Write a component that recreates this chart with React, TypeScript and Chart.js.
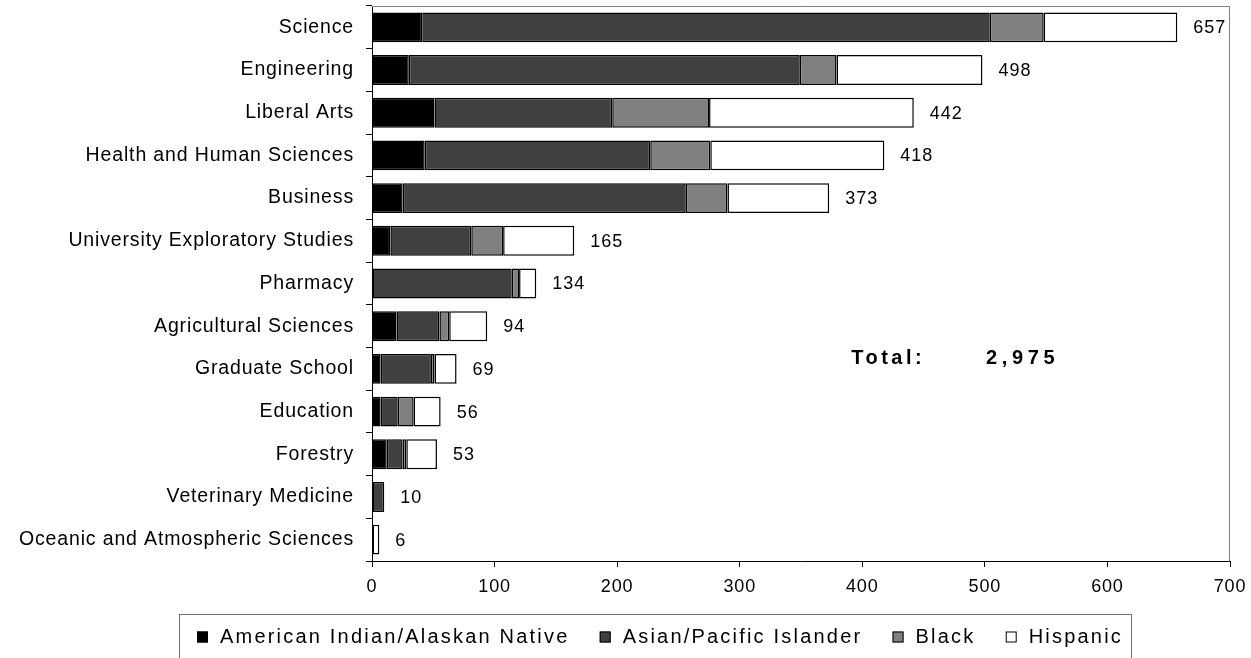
import React, { useEffect, useRef } from "react";
import { Chart, registerables } from "chart.js";

Chart.register(...registerables);

const categories = [
  "Science",
  "Engineering",
  "Liberal Arts",
  "Health and Human Sciences",
  "Business",
  "University Exploratory Studies",
  "Pharmacy",
  "Agricultural Sciences",
  "Graduate School",
  "Education",
  "Forestry",
  "Veterinary Medicine",
  "Oceanic and Atmospheric Sciences",
];

const seriesNames = [
  "American Indian/Alaskan Native",
  "Asian/Pacific Islander",
  "Black",
  "Hispanic",
];

const americanIndian = [41, 30, 51, 43, 25, 15, 0, 20, 7, 7, 12, 0, 0];
const asianPacific = [463, 319, 145, 184, 231, 66, 114, 35, 41, 14, 13, 10, 0];
const black = [44, 30, 79, 49, 34, 26, 6, 8, 3, 13, 3, 0, 0];
const hispanic = [109, 119, 167, 142, 83, 58, 14, 31, 18, 22, 25, 0, 6];

const seriesColors = ["#000000", "#404040", "#808080", "#ffffff"];

const xMin = 0;
const xMax = 700;
const xStep = 100;

const totalLabel = "Total:";

const FONT = '"Liberation Sans", Arial, sans-serif';

const seriesValues = [americanIndian, asianPacific, black, hispanic];
const totals = categories.map((_, i) =>
  seriesValues.reduce((s, arr) => s + arr[i], 0)
);
const grandTotal = totals.reduce((s, v) => s + v, 0);

const extrasPlugin = {
  id: "extras",
  beforeLayout(chart: any) {
    chart.ctx.letterSpacing = "0.85px";
  },
  beforeDraw(chart: any) {
    chart.ctx.letterSpacing = "0.85px";
  },
  afterDatasetsDraw(chart: any) {
    const ctx = chart.ctx;
    const xs = chart.scales.x;
    const ys = chart.scales.y;
    const area = chart.chartArea;
    ctx.save();
    // plot border top & right
    ctx.strokeStyle = "#808080";
    ctx.lineWidth = 1;
    ctx.beginPath();
    ctx.moveTo(area.left, Math.round(area.top) + 0.5);
    ctx.lineTo(Math.round(area.right) - 0.5, Math.round(area.top) + 0.5);
    ctx.lineTo(Math.round(area.right) - 0.5, area.bottom);
    ctx.stroke();

    // total labels
    ctx.fillStyle = "#000";
    ctx.font = `18px ${FONT}`;
    ctx.letterSpacing = "1px";
    ctx.textAlign = "left";
    ctx.textBaseline = "middle";
    const meta = chart.getDatasetMeta(seriesNames.length - 1);
    totals.forEach((t, i) => {
      const el = meta.data[i];
      const x = xs.getPixelForValue(t) + 16;
      ctx.fillText(String(t), x, el.y + 1);
    });

    // grand total
    ctx.font = `bold 20px ${FONT}`;
    ctx.textBaseline = "middle";
    const ty = ys.getPixelForValue(7.75);
    ctx.textAlign = "left";
    ctx.letterSpacing = "3.5px";
    ctx.fillText(totalLabel, xs.getPixelForValue(391), ty);
    ctx.letterSpacing = "4.6px";
    ctx.fillText(grandTotal.toLocaleString("en-US"), xs.getPixelForValue(501), ty);
    ctx.restore();
  },
  afterDraw(chart: any) {
    const ctx = chart.ctx;
    ctx.save();
    const boxLeft = 179.5;
    const boxRight = 1131.5;
    const boxTop = 614.5;
    const boxBottom = 700;
    ctx.strokeStyle = "#707070";
    ctx.lineWidth = 1;
    ctx.strokeRect(boxLeft, boxTop, boxRight - boxLeft, boxBottom - boxTop);

    ctx.font = `20px ${FONT}`;
    ctx.letterSpacing = "2.2px";
    ctx.textBaseline = "middle";
    ctx.textAlign = "left";
    const marker = 11;
    const mGap = 12;
    const widths = chart.data.datasets.map((d: any) => ctx.measureText(d.label).width);
    const start = 197;
    const end = 1123;
    const content = widths.reduce((s: number, w: number) => s + w + marker + mGap, 0);
    const gap = (end - start - content) / (widths.length - 1);
    let x = start;
    const cy = 637;
    chart.data.datasets.forEach((d: any, i: number) => {
      ctx.fillStyle = d.backgroundColor;
      ctx.fillRect(x, cy - marker / 2, marker, marker);
      ctx.strokeStyle = "#000";
      ctx.lineWidth = 1;
      ctx.strokeRect(x + 0.5, cy - marker / 2 + 0.5, marker - 1, marker - 1);
      ctx.fillStyle = "#000";
      ctx.fillText(d.label, x + marker + mGap, cy);
      x += marker + mGap + widths[i] + gap;
    });
    ctx.restore();
  },
};

export default function App() {
  const ref = useRef<HTMLCanvasElement | null>(null);

  useEffect(() => {
    if (!ref.current) return;
    const chart = new Chart(ref.current, {
      type: "bar",
      data: {
        labels: categories,
        datasets: seriesNames.map((name, i) => ({
          label: name,
          data: seriesValues[i],
          backgroundColor: seriesColors[i],
          borderColor: "#000000",
          borderWidth: 1.5,
          borderSkipped: false,
          categoryPercentage: 1,
          barPercentage: 0.7,
        })),
      },
      options: {
        indexAxis: "y",
        animation: false,
        responsive: true,
        maintainAspectRatio: false,
        layout: { padding: { left: 0, right: 21, top: 6, bottom: 57 } },
        plugins: {
          legend: { display: false },
          tooltip: { enabled: false },
        },
        scales: {
          x: {
            stacked: true,
            min: xMin,
            max: xMax,
            ticks: {
              stepSize: xStep,
              color: "#000",
              font: { family: FONT, size: 18 },
              padding: 9,
            },
            grid: {
              drawOnChartArea: false,
              drawTicks: true,
              tickLength: 6,
              color: "#000",
            },
            border: { display: true, color: "#000", width: 1 },
            afterFit: (s: any) => {
              s.height = 40;
              s.paddingLeft = 0;
              s.paddingRight = 0;
              s.paddingTop = 0;
              s.paddingBottom = 0;
            },
          },
          y: {
            stacked: true,
            ticks: {
              color: "#000",
              font: { family: FONT, size: 19.5 },
              padding: 12,
              autoSkip: false,
            },
            grid: {
              drawOnChartArea: false,
              drawTicks: true,
              tickLength: 6,
              color: "#000",
              offset: true,
            },
            border: { display: true, color: "#000", width: 1 },
            afterFit: (s: any) => {
              s.width = 372;
              s.paddingLeft = 0;
              s.paddingRight = 0;
              s.paddingTop = 0;
              s.paddingBottom = 0;
            },
          },
        },
      },
      plugins: [extrasPlugin],
    });
    return () => chart.destroy();
  }, []);

  return (
    <div
      style={{
        position: "fixed",
        left: 0,
        top: 0,
        width: 1251,
        height: 658,
        background: "#fff",
      }}
    >
      <canvas ref={ref} />
    </div>
  );
}
